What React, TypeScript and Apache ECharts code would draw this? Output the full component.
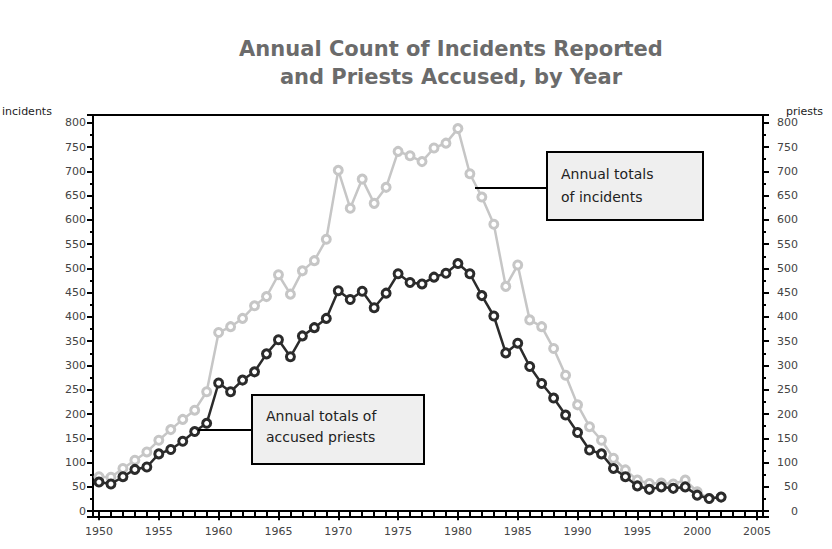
import React, { useEffect, useRef } from "react";
import * as echarts from "echarts";

const years: string[] = [];
for (let y = 1950; y <= 2005; y++) years.push(String(y));

const incidents = [
  71, 70, 88, 105, 122, 146, 168, 189, 208, 246,
  368, 380, 397, 423, 442, 487, 447, 495, 516, 560,
  702, 624, 684, 634, 667, 741, 732, 720, 748, 758,
  788, 695, 647, 591, 463, 507, 394, 380, 335, 280,
  219, 174, 146, 109, 85, 64, 57, 58, 56, 64,
  40, 26, 29,
];

const priests = [
  60, 56, 71, 86, 91, 118, 127, 144, 164, 181,
  264, 246, 270, 287, 324, 353, 318, 361, 378, 397,
  454, 436, 453, 419, 449, 489, 471, 468, 482, 490,
  510, 489, 444, 402, 326, 346, 298, 263, 233, 198,
  162, 126, 118, 88, 71, 52, 45, 50, 47, 50,
  33, 26, 29,
];

const titleText = "Annual Count of Incidents Reported\nand Priests Accused, by Year";
const incidentsNote = "Annual totals\nof incidents";
const priestsNote = "Annual totals of\naccused priests";

const FONT = "DejaVu Sans";

export default function App() {
  const ref = useRef<HTMLDivElement>(null);
  useEffect(() => {
    if (!ref.current) return;
    const chart = echarts.init(ref.current, undefined, { renderer: "svg" });
    const yAxisBase = {
      type: "value" as const,
      min: -12,
      max: 816,
      splitNumber: 16,
      splitLine: { show: false },
      axisLine: { show: true, lineStyle: { color: "#000", width: 2 } },
      axisTick: { show: true, length: 6, lineStyle: { color: "#000", width: 2 } },
      minorTick: { show: true, splitNumber: 2, length: 3, lineStyle: { color: "#000", width: 2 } },
      minorSplitLine: { show: false },
    };
    const labelStyle = { color: "#444", fontFamily: FONT, fontSize: 11 };
    chart.setOption({
      animation: false,
      backgroundColor: "#fff",
      title: {
        text: titleText,
        left: 446,
        top: 30,
        textAlign: "center",
        textStyle: {
          color: "#6b6b6b",
          fontFamily: FONT,
          fontWeight: "bold",
          fontSize: 21,
          lineHeight: 28,
        },
      },
      grid: {
        left: 93,
        right: 69,
        top: 115,
        bottom: 32,
        show: true,
        borderColor: "#000",
        borderWidth: 2,
        backgroundColor: "transparent",
      },
      xAxis: [
        {
          type: "category",
          data: years,
          position: "bottom",
          boundaryGap: true,
          axisLine: { show: true, lineStyle: { color: "#000", width: 2 } },
          axisTick: { show: true, interval: 0, alignWithLabel: true, length: 5, lineStyle: { color: "#000", width: 2 } },
          axisLabel: { show: false },
          splitLine: { show: false },
        },
        {
          type: "category",
          data: years,
          position: "bottom",
          boundaryGap: true,
          axisLine: { show: false },
          axisTick: { show: true, interval: 4, alignWithLabel: true, length: 9, lineStyle: { color: "#000", width: 2 } },
          axisLabel: { show: true, interval: 4, margin: 9, ...labelStyle },
          splitLine: { show: false },
        },
      ],
      yAxis: [
        {
          ...yAxisBase,
          position: "left",
          axisLabel: { show: true, showMinLabel: false, showMaxLabel: false, margin: 7, ...labelStyle },
        },
        {
          ...yAxisBase,
          position: "right",
          axisLabel: { show: true, showMinLabel: false, showMaxLabel: false, margin: 35, align: "right", ...labelStyle },
        },
      ],
      series: [
        {
          name: "incidents",
          type: "line",
          xAxisIndex: 0,
          yAxisIndex: 0,
          data: incidents,
          symbol: "circle",
          symbolSize: 8,
          showSymbol: true,
          showAllSymbol: true,
          lineStyle: { color: "#c6c6c6", width: 2.5 },
          itemStyle: { color: "#fff", borderColor: "#c6c6c6", borderWidth: 3 },
          z: 2,
        },
        {
          name: "priests",
          type: "line",
          xAxisIndex: 0,
          yAxisIndex: 1,
          data: priests,
          symbol: "circle",
          symbolSize: 8,
          showSymbol: true,
          showAllSymbol: true,
          lineStyle: { color: "#2b2b2b", width: 2.5 },
          itemStyle: { color: "#fff", borderColor: "#2b2b2b", borderWidth: 3 },
          z: 3,
        },
      ],
      graphic: [
        { type: "text", left: 2, top: 106, style: { text: "incidents", fontFamily: FONT, fontSize: 11, fill: "#222" } },
        { type: "text", left: 786, top: 106, style: { text: "priests", fontFamily: FONT, fontSize: 11, fill: "#222" } },
        { type: "line", shape: { x1: 475, y1: 188, x2: 547, y2: 188 }, style: { stroke: "#000", lineWidth: 2 }, z: 10 },
        { type: "rect", shape: { x: 547, y: 152, width: 156, height: 68 }, style: { fill: "#efefef", stroke: "#000", lineWidth: 2 }, z: 10 },
        { type: "text", x: 561, y: 162, style: { text: incidentsNote, fontFamily: FONT, fontSize: 14, lineHeight: 23, fill: "#222" }, z: 11 },
        { type: "line", shape: { x1: 198, y1: 430, x2: 252, y2: 430 }, style: { stroke: "#000", lineWidth: 2 }, z: 10 },
        { type: "rect", shape: { x: 252, y: 395, width: 172, height: 69 }, style: { fill: "#efefef", stroke: "#000", lineWidth: 2 }, z: 10 },
        { type: "text", x: 266, y: 405, style: { text: priestsNote, fontFamily: FONT, fontSize: 14, lineHeight: 21, fill: "#222" }, z: 11 },
      ],
    });
    return () => chart.dispose();
  }, []);
  return (
    <div
      ref={ref}
      style={{ position: "fixed", left: 0, top: 0, width: 832, height: 549, background: "#fff" }}
    />
  );
}
